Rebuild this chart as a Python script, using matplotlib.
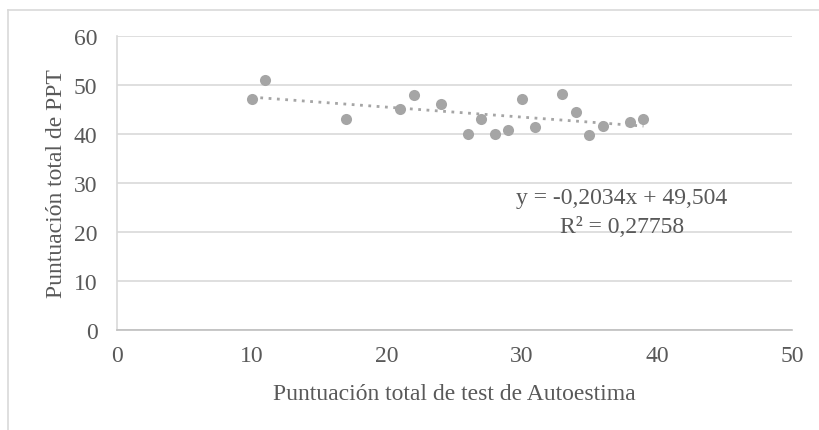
import matplotlib.pyplot as plt
import numpy as np

# Autoestima score vs PPT score
autoestima = [10, 11, 17, 21, 22, 24, 26, 27, 28, 29, 30, 31, 33, 34, 35, 36, 38, 39]
ppt = [47, 51, 43, 45, 48, 46, 40, 43, 40, 40.8, 47, 41.4, 48.2, 44.4, 39.7, 41.5, 42.4, 43.1]

# trendline given on the chart
slope = -0.2034
intercept = 49.504
eq_text = "y = -0,2034x + 49,504"
r2_text = "R² = 0,27758"

plt.rcParams['font.family'] = ['Liberation Serif', 'DejaVu Serif']
text_color = '#595959'
grid_color = '#d9d9d9'
point_color = '#a5a5a5'
fs = 17

fig = plt.figure(figsize=(8.2, 4.31), dpi=100)
ax = fig.add_axes([117/820, 1 - 331/431, (792 - 117)/820, (331 - 36.7)/431])

# outer chart border (only top and left show in the crop)
fig.add_artist(plt.Line2D([8/820, 8/820], [0, 1 - 10.5/431], color=grid_color, lw=1.2))
fig.add_artist(plt.Line2D([8/820, 1], [1 - 10.5/431, 1 - 10.5/431], color=grid_color, lw=1.2))

ax.set_xlim(0, 50)
ax.set_ylim(0, 60)
ax.set_xticks(range(0, 51, 10))
ax.set_yticks(range(0, 61, 10))
ax.yaxis.grid(True, color=grid_color, lw=1.2)
ax.set_axisbelow(True)
for s in ['top', 'right']:
    ax.spines[s].set_visible(False)
ax.spines['left'].set_color(grid_color)
ax.spines['bottom'].set_color('#bfbfbf')
ax.spines['left'].set_linewidth(1.2)
ax.spines['bottom'].set_linewidth(1.2)
ax.tick_params(length=0, labelsize=fs, labelcolor=text_color)
ax.tick_params(axis='x', pad=11)
ax.tick_params(axis='y', pad=14)

xs = np.array([min(autoestima), max(autoestima)])
ax.plot(xs, slope * xs + intercept, linestyle=(0, (1, 2)), color=point_color, lw=2)
ax.scatter(autoestima, ppt, s=64, color=point_color, zorder=3, linewidths=0)

ax.text(37.4, 27.1, eq_text, ha='center', va='center', fontsize=fs, color=text_color)
ax.text(37.4, 21.2, r2_text, ha='center', va='center', fontsize=fs, color=text_color)

ax.set_xlabel("Puntuación total de test de Autoestima", fontsize=fs, color=text_color, labelpad=12)
ax.set_ylabel("Puntuación total de PPT", fontsize=fs, color=text_color, labelpad=5)

plt.savefig('out.png', dpi=100)
